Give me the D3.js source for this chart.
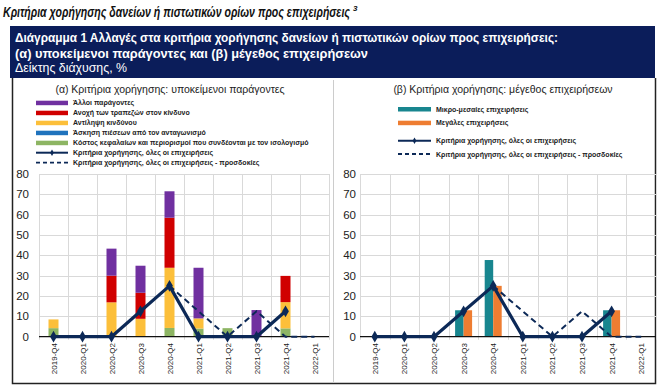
<!DOCTYPE html>
<html>
<head>
<meta charset="utf-8">
<script src="https://cdn.jsdelivr.net/npm/d3@7"></script>
<style>
   body { margin: 0; background: #fff; }
   svg { display: block; font-family: "Liberation Sans", Arial, sans-serif; }
</style>
</head>
<body>
<svg id="chart" width="662" height="386"></svg>
<script>
'use strict';

// quarters on both panels
const categories = ['2019-Q4', '2020-Q1', '2020-Q2', '2020-Q3', '2020-Q4', '2021-Q1', '2021-Q2', '2021-Q3', '2021-Q4', '2022-Q1'];
const yTicks = [0, 10, 20, 30, 40, 50, 60, 70, 80];

// (a) underlying factors, stacked bottom -> top
const costCapital = [4.2, 0, 0, 0, 4.3, 4, 4.2, 0, 4.1, 0];
const competition = [0, 0, 0, 0, 0, 0, 0, 0, 0, 0];
const riskPerception = [4.3, 0, 16.9, 8.8, 29.6, 5, 0, 0, 12.9, 0];
const riskTolerance = [0, 0, 13.1, 12.8, 24.6, 0, 0, 0, 12.9, 0];
const otherFactors = [0, 0, 13.3, 13.3, 13, 24.9, 0, 13.1, 0, 0];

// (b) firm size
const smeValues = [0, 0, 0, 13, 37.7, 0, 0, 0, 13, 0];
const largeValues = [0, 0, 0, 13, 25, 0, 0, 0, 13, 0];

// overall credit standards, actual and expected
const overall = [0, 0, 0, 12.5, 25, 0, 0, 0, 12.5, null];
const expected = [null, null, null, null, 25, 12.5, 0, 12.5, 0, 0];

const stackKeys = ['cost', 'comp', 'risk', 'tol', 'other'];
const stackNames = {
   other: 'Άλλοι παράγοντες',
   tol: 'Ανοχή των τραπεζών στον κίνδυνο',
   risk: 'Αντίληψη κινδύνου',
   comp: 'Άσκηση πιέσεων από τον ανταγωνισμό',
   cost: 'Κόστος  κεφαλαίων και περιορισμοί που συνδέονται με τον ισολογισμό'
};
const colors = {
   other: '#7030a0', tol: '#d00000', risk: '#fcbf3a', comp: '#1f73bd', cost: '#8db563',
   sme: '#18868f', large: '#ee7d31', line: '#0c2957'
};

const svg = d3.select('#chart');

// heading, footnote mark as a tspan so both stay one text
const heading = svg.append('text')
   .attr('x', 3).attr('y', 17)
   .attr('font-weight', 'bold').attr('font-style', 'italic')
   .attr('fill', '#111');
heading.append('tspan')
   .attr('font-size', 15)
   .attr('textLength', 347).attr('lengthAdjust', 'spacingAndGlyphs')
   .text('Κριτήρια χορήγησης δανείων ή πιστωτικών ορίων προς επιχειρήσεις');
heading.append('tspan')
   .attr('font-size', 8).attr('dx', 3).attr('dy', -6)
   .text('3');

// navy caption box
svg.append('rect')
   .attr('x', 10).attr('y', 26).attr('width', 645).attr('height', 52)
   .attr('fill', '#0b1d5a');
const caption = [
   { t: 'Διάγραμμα 1 Αλλαγές στα κριτήρια χορήγησης δανείων ή πιστωτικών ορίων προς επιχειρήσεις:', y: 42, b: true, w: 543 },
   { t: '(α) υποκείμενοι παράγοντες και (β) μέγεθος επιχειρήσεων', y: 58, b: true, w: 353 },
   { t: 'Δείκτης διάχυσης, %', y: 72, b: false, w: 112 }
];
svg.selectAll('text.cap').data(caption).enter().append('text')
   .attr('class', 'cap')
   .attr('x', 15).attr('y', d => d.y)
   .attr('font-size', 12.5).attr('fill', '#fff')
   .attr('font-weight', d => d.b ? 'bold' : 'normal')
   .attr('textLength', d => d.w).attr('lengthAdjust', 'spacingAndGlyphs')
   .text(d => d.t);

// chart frame
svg.append('path')
   .attr('d', 'M12.5,78 V383.5 H655.5 V78')
   .attr('fill', 'none').attr('stroke', '#222').attr('stroke-width', 1.5);
svg.append('line')
   .attr('x1', 333.5).attr('x2', 333.5).attr('y1', 80).attr('y2', 383)
   .attr('stroke', '#ccc');

const y = d3.scaleLinear().domain([0, 80]).range([336.7, 174]);

function panel(left, right, labelX) {
   const x = d3.scaleBand().domain(categories).range([left, right]);
   const g = svg.append('g');

   // grid
   g.selectAll('line.hg').data(yTicks.slice(1)).enter().append('line')
      .attr('x1', left).attr('x2', right)
      .attr('y1', d => Math.round(y(d)) + 0.5).attr('y2', d => Math.round(y(d)) + 0.5)
      .attr('stroke', '#d9d9d9');
   const bounds = d3.range(categories.length + 1).map(i => left + i * x.bandwidth());
   g.selectAll('line.vg').data(bounds).enter().append('line')
      .attr('x1', d => Math.round(d) + 0.5).attr('x2', d => Math.round(d) + 0.5)
      .attr('y1', y(80)).attr('y2', y(0) + 3)
      .attr('stroke', '#d9d9d9');

   // y labels
   g.selectAll('text.yl').data(yTicks).enter().append('text')
      .attr('x', labelX).attr('y', d => y(d) + 4)
      .attr('text-anchor', 'end').attr('font-size', 11.5).attr('fill', '#222')
      .text(d => d);

   // x labels
   g.selectAll('text.xl').data(categories).enter().append('text')
      .attr('transform', d => `translate(${x(d) + x.bandwidth() / 2 + 3},343) rotate(-90)`)
      .attr('text-anchor', 'end').attr('font-size', 8).attr('fill', '#222')
      .text(d => d);

   return { g, x };
}

function drawLines(p) {
   const { g, x } = p;
   const cx = d => x(d) + x.bandwidth() / 2;
   const line = d3.line().defined(d => d.v !== null).x(d => cx(d.c)).y(d => y(d.v));

   g.append('line')
      .attr('x1', x.range()[0]).attr('x2', x.range()[1])
      .attr('y1', y(0)).attr('y2', y(0))
      .attr('stroke', '#111').attr('stroke-width', 1.2);

   const exp = categories.map((c, i) => ({ c, v: expected[i] }));
   g.append('path').datum(exp)
      .attr('d', line).attr('fill', 'none')
      .attr('stroke', colors.line).attr('stroke-width', 2).attr('stroke-dasharray', '6,4');

   const act = categories.map((c, i) => ({ c, v: overall[i] }));
   g.append('path').datum(act)
      .attr('d', line).attr('fill', 'none')
      .attr('stroke', colors.line).attr('stroke-width', 3.2).attr('stroke-linejoin', 'round');
   g.selectAll('path.mk').data(act.filter(d => d.v !== null)).enter().append('path')
      .attr('d', d3.symbol(d3.symbolDiamond, 40))
      .attr('transform', d => `translate(${cx(d.c)},${y(d.v)})`)
      .attr('fill', colors.line);
}

function legend(items, sx, tx, fontSize) {
   const lg = svg.append('g');
   items.forEach(it => {
      if (it.type === 'bar') {
         lg.append('rect')
            .attr('x', sx).attr('y', it.y - 2).attr('width', it.w).attr('height', 4.5)
            .attr('fill', it.color);
      } else {
         lg.append('line')
            .attr('x1', sx).attr('x2', sx + it.w).attr('y1', it.y).attr('y2', it.y)
            .attr('stroke', colors.line).attr('stroke-width', it.dash ? 1.8 : 2)
            .attr('stroke-dasharray', it.dash ? '4,3' : null);
         if (!it.dash) {
            lg.append('path')
               .attr('d', d3.symbol(d3.symbolDiamond, 12))
               .attr('transform', `translate(${sx + it.w / 2},${it.y})`)
               .attr('fill', colors.line);
         }
      }
      lg.append('text')
         .attr('x', tx).attr('y', it.y + 2.5)
         .attr('font-size', fontSize).attr('font-weight', 'bold').attr('fill', '#222')
         .text(it.label);
   });
}

// (a) panel
svg.append('text')
   .attr('x', 170).attr('y', 93).attr('text-anchor', 'middle')
   .attr('font-size', 10.5).attr('fill', '#222')
   .text('(α) Κριτήρια χορήγησης: υποκείμενοι παράγοντες');

const legA = ['other', 'tol', 'risk', 'comp', 'cost'].map((k, i) => ({
   type: 'bar', color: colors[k], label: stackNames[k], y: 102.7 + i * 10, w: 32
}));
legA.push({ type: 'line', label: 'Κριτήρια  χορήγησης,  όλες οι επιχειρήσεις', y: 152.7, w: 32 });
legA.push({ type: 'line', dash: true, label: 'Κριτήρια  χορήγησης,  όλες οι επιχειρήσεις - προσδοκίες', y: 162.7, w: 32 });
legend(legA, 36, 73, 7);

const pa = panel(39, 329, 29);
const rows = categories.map((c, i) => ({
   c, cost: costCapital[i], comp: competition[i], risk: riskPerception[i], tol: riskTolerance[i], other: otherFactors[i]
}));
const stacked = d3.stack().keys(stackKeys)(rows);
const bwA = 10;
pa.g.selectAll('g.layer').data(stacked).enter().append('g')
   .attr('fill', d => colors[d.key])
   .selectAll('rect').data(d => d).enter().append('rect')
   .attr('x', d => pa.x(d.data.c) + pa.x.bandwidth() / 2 - bwA / 2)
   .attr('width', bwA)
   .attr('y', d => y(d[1]))
   .attr('height', d => y(d[0]) - y(d[1]));
drawLines(pa);

// (b) panel
svg.append('text')
   .attr('x', 503).attr('y', 93).attr('text-anchor', 'middle')
   .attr('font-size', 10.5).attr('fill', '#222')
   .text('(β) Κριτήρια χορήγησης: μέγεθος επιχειρήσεων');

legend([
   { type: 'bar', color: colors.sme, label: 'Μικρο-μεσαίες επιχειρήσεις', y: 109, w: 33 },
   { type: 'bar', color: colors.large, label: 'Μεγάλες επιχειρήσεις', y: 122.7, w: 33 },
   { type: 'line', label: 'Κριτήρια  χορήγησης,  όλες οι επιχειρήσεις', y: 140.7, w: 33 },
   { type: 'line', dash: true, label: 'Κριτήρια  χορήγησης,  όλες οι επιχειρήσεις - προσδοκίες', y: 154, w: 33 }
], 398, 436, 7);

const pb = panel(360, 656, 356);
const bwB = 8.5;
pb.g.selectAll('rect.sme').data(categories).enter().append('rect')
   .attr('x', (d) => pb.x(d) + pb.x.bandwidth() / 2 - bwB)
   .attr('width', bwB)
   .attr('y', (d, i) => y(smeValues[i]))
   .attr('height', (d, i) => y(0) - y(smeValues[i]))
   .attr('fill', colors.sme);
pb.g.selectAll('rect.large').data(categories).enter().append('rect')
   .attr('x', (d) => pb.x(d) + pb.x.bandwidth() / 2)
   .attr('width', bwB)
   .attr('y', (d, i) => y(largeValues[i]))
   .attr('height', (d, i) => y(0) - y(largeValues[i]))
   .attr('fill', colors.large);
drawLines(pb);
</script>
</body>
</html>
